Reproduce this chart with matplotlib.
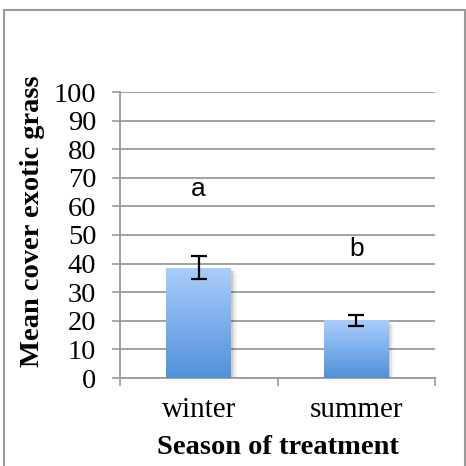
import numpy as np
import matplotlib.pyplot as plt
from matplotlib.colors import LinearSegmentedColormap
from matplotlib.patches import Rectangle

seasons = ["winter", "summer"]
mean_cover = [38.5, 20.2]
err = [4.0, 2.0]
letters = ["a", "b"]
letter_y = [66, 45]
yticks = list(range(0, 101, 10))

fig = plt.figure(figsize=(4.66, 4.66), dpi=100)
grey = "#9a9a9a"
serif = "Liberation Serif"

# frame round the whole chart
fig.patches.append(Rectangle((4 / 466, -0.01), 461 / 466, 1 - 10 / 466 + 0.01,
                             transform=fig.transFigure, fill=False,
                             edgecolor=grey, linewidth=1.5))

ax = fig.add_axes([120 / 466, 1 - 378 / 466, 315 / 466, 286 / 466])
ax.set_xlim(0, 2)
ax.set_ylim(0, 100)

x = np.array([0.5, 1.5])
width = 0.41
grad = np.linspace(0, 1, 256).reshape(-1, 1)
cmap = LinearSegmentedColormap.from_list("bar", ["#4f91d9", "#aacefc"])

for xi, h, e in zip(x, mean_cover, err):
    # soft shadow
    for k, a in enumerate([0.10, 0.07, 0.04]):
        ax.add_patch(Rectangle((xi - width / 2 + 0.012 * (k + 1), -0.6 * (k + 1)),
                               width, h, color="black", alpha=a,
                               linewidth=0, zorder=2))
    bar = Rectangle((xi - width / 2, 0), width, h, facecolor="none",
                    edgecolor="none", zorder=3)
    ax.add_patch(bar)
    im = ax.imshow(grad, cmap=cmap, aspect="auto", origin="lower",
                   extent=(xi - width / 2, xi + width / 2, 0, h), zorder=3)
    im.set_clip_path(bar)
    ax.errorbar(xi, h, yerr=e, fmt="none", ecolor="black", elinewidth=1.6,
                capsize=6, capthick=1.6, zorder=4)

for xi, t, ty in zip(x, letters, letter_y):
    ax.text(xi, ty, t, ha="center", va="center", fontsize=19,
            family="Liberation Sans", zorder=5)

ax.set_yticks(yticks)
ax.set_yticklabels([str(v) for v in yticks], family=serif, fontsize=20.5)
ax.set_xticks(x)
ax.set_xticklabels(seasons, family=serif, fontsize=21)
ax.set_xticks([0, 1, 2], minor=True)
ax.tick_params(axis="x", which="major", length=0, pad=14)
ax.tick_params(axis="x", which="minor", length=6, width=1.2, color=grey,
               direction="out")
ax.tick_params(axis="y", length=6, width=1.2, color=grey, pad=11)

ax.yaxis.grid(True, color=grey, linewidth=1.3, zorder=0)
ax.set_axisbelow(True)
for s in ["top", "right"]:
    ax.spines[s].set_visible(False)
for s in ["left", "bottom"]:
    ax.spines[s].set_color(grey)
    ax.spines[s].set_linewidth(1.3)

fig.text(277.5 / 466, 1 - 448 / 466, "Season of treatment", family=serif,
         fontweight="bold", fontsize=20.5, ha="center", va="center")
fig.text(33 / 466, 1 - 221 / 466, "Mean cover exotic grass", family=serif,
         fontweight="bold", fontsize=20.5, ha="center", va="center",
         rotation=90)

fig.savefig("out.png", dpi=100)
